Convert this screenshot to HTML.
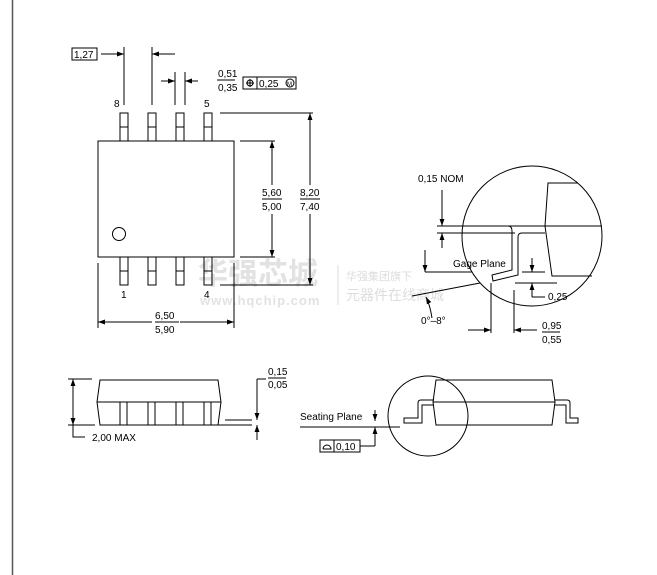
<!DOCTYPE html>
<html><head><meta charset="utf-8"><style>
body{margin:0;background:#fff}
svg{display:block}
text{font-family:"Liberation Sans","DejaVu Sans",sans-serif;font-size:10px;fill:#000}
</style></head><body>
<svg width="657" height="575" viewBox="0 0 657 575" xmlns="http://www.w3.org/2000/svg">
<defs>
<marker id="a" viewBox="0 0 10 10" refX="10" refY="5" markerWidth="7" markerHeight="7" orient="auto-start-reverse"><path d="M0,1.5 L10,5 L0,8.5 z" fill="#000"/></marker>
</defs>
<line x1="12.5" y1="0" x2="12.5" y2="575" stroke="#555" stroke-width="1.5"/>
<!-- watermark -->
<g fill="#ddd">
<text x="198" y="284" style="font-size:30px;font-weight:bold;fill:#e2e2e2;font-family:'Noto Sans CJK SC',sans-serif">华强芯城</text>
<text x="200" y="305" style="font-size:13px;font-weight:bold;fill:#e2e2e2;letter-spacing:1px">www.hqchip.com</text>
<line x1="338" y1="265" x2="338" y2="305" stroke="#ddd"/>
<text x="346" y="280" style="font-size:11px;fill:#ddd;font-family:'Noto Sans CJK SC',sans-serif">华强集团旗下</text>
<text x="346" y="300" style="font-size:14px;fill:#ddd;font-family:'Noto Sans CJK SC',sans-serif">元器件在线商城</text>
</g>
<g stroke="#000" stroke-width="1" fill="none">
<!-- top view -->
<rect x="98" y="141" width="136" height="116"/>
<circle cx="119" cy="234" r="6.5"/>
<g>
<rect x="120" y="113" width="8" height="28"/><rect x="148" y="113" width="8" height="28"/><rect x="176" y="113" width="8" height="28"/><rect x="204" y="113" width="8" height="28"/>
<rect x="120" y="257" width="8" height="28"/><rect x="148" y="257" width="8" height="28"/><rect x="176" y="257" width="8" height="28"/><rect x="204" y="257" width="8" height="28"/>
<path d="M120 127h8M148 127h8M176 127h8M204 127h8M120 271h8M148 271h8M176 271h8M204 271h8"/>
</g>
<rect x="72" y="48" width="25" height="12"/>
<path d="M124 47V105M152 47V105M175 72V105M185 72V105"/>
<line x1="101" y1="54" x2="124" y2="54" marker-end="url(#a)"/>
<line x1="175" y1="54" x2="152" y2="54" marker-end="url(#a)"/>
<line x1="161" y1="81" x2="175" y2="81" marker-end="url(#a)"/>
<line x1="198" y1="81" x2="185" y2="81" marker-end="url(#a)"/>
<path d="M217 80h18"/>
<rect x="243" y="77" width="53" height="12"/><path d="M257 77v12"/>
<circle cx="250" cy="83" r="3"/><path d="M250 79v8M246 83h8"/>
<circle cx="290" cy="83" r="4"/>
<path d="M220 113h93M240 141h35M240 257h35M220 285h93"/>
<line x1="272" y1="185" x2="272" y2="141" marker-end="url(#a)"/>
<line x1="272" y1="214" x2="272" y2="257" marker-end="url(#a)"/>
<line x1="310" y1="185" x2="310" y2="113" marker-end="url(#a)"/>
<line x1="310" y1="214" x2="310" y2="285" marker-end="url(#a)"/>
<path d="M262 199h20M300 199h20"/>
<path d="M98 263V328M234 263V328"/>
<line x1="152" y1="322" x2="98" y2="322" marker-end="url(#a)"/>
<line x1="180" y1="322" x2="234" y2="322" marker-end="url(#a)"/>
<path d="M155 322h24"/>
<!-- detail -->
<circle cx="532" cy="236" r="70"/>
<path d="M578 183H548L545 226L552 276H592"/>
<path d="M437 226H602"/>
<path d="M437 233H515"/>
<path d="M437 226H508Q512 226 512 231V270L492 275L493 281L518 275V237Q518 233 522 233H545"/>
<line x1="442" y1="190" x2="442" y2="226" marker-end="url(#a)"/>
<line x1="442" y1="248" x2="442" y2="233" marker-end="url(#a)"/>
<path d="M425 272H472M412 296L480 283"/>
<line x1="425" y1="250" x2="425" y2="272" marker-end="url(#a)"/>
<path d="M432 318Q430 305 426 297" marker-end="url(#a)"/>
<path d="M522 272H545M515 283H557"/>
<line x1="532" y1="258" x2="532" y2="272" marker-end="url(#a)"/>
<path d="M532 297V290M532 297H545"/>
<line x1="532" y1="297" x2="532" y2="283" marker-end="url(#a)"/>
<path d="M491 283V333M514 290V333"/>
<line x1="468" y1="330" x2="491" y2="330" marker-end="url(#a)"/>
<line x1="537" y1="330" x2="514" y2="330" marker-end="url(#a)"/>
<path d="M542 332h18"/>
<!-- side view left -->
<path d="M100 380H218L221 402L218 425H100L97 402Z"/>
<path d="M97 402H221"/>
<rect x="120" y="402" width="7" height="23"/><rect x="148" y="402" width="7" height="23"/><rect x="176" y="402" width="7" height="23"/><rect x="204" y="402" width="7" height="23"/>
<path d="M68 379H92M68 425H95M73 425V437H85"/>
<line x1="73" y1="402" x2="73" y2="379" marker-end="url(#a)"/>
<line x1="73" y1="402" x2="73" y2="425" marker-end="url(#a)"/>
<path d="M225 420H252M210 425H252M257 379H266"/>
<line x1="257" y1="379" x2="257" y2="420" marker-end="url(#a)"/>
<line x1="257" y1="440" x2="257" y2="425" marker-end="url(#a)"/>
<path d="M268 378h18"/>
<!-- side view right -->
<circle cx="428" cy="416" r="40"/>
<path d="M436 380H552L555 402L552 425H436L433 402Z"/>
<path d="M433 402H555"/>
<path d="M434 400H421Q418 400 418 403V418H404V423H422V405H434"/>
<path d="M555 400H567Q570 400 570 403V418H578V423H566V405H555"/>
<path d="M300 427H400"/>
<line x1="375" y1="410" x2="375" y2="421" marker-end="url(#a)"/>
<line x1="375" y1="446" x2="375" y2="427" marker-end="url(#a)"/>
<path d="M360 446H375"/>
<rect x="320" y="440" width="40" height="12"/><path d="M334 440v12"/>
<path d="M323 449H331A4 4 0 0 0 323 449"/>
</g>
<text x="74" y="58">1,27</text>
<text x="114" y="107">8</text>
<text x="204" y="107">5</text>
<text x="121" y="298">1</text>
<text x="204" y="298">4</text>
<text x="218" y="77">0,51</text>
<text x="218" y="91">0,35</text>
<text x="259" y="87">0,25</text>
<text x="287" y="86" style="font-size:6px">M</text>
<text x="262" y="196">5,60</text>
<text x="262" y="210">5,00</text>
<text x="300" y="196">8,20</text>
<text x="300" y="210">7,40</text>
<text x="155" y="319">6,50</text>
<text x="155" y="333">5,90</text>
<text x="418" y="182">0,15 NOM</text>
<text x="453" y="267">Gage Plane</text>
<text x="548" y="300">0,25</text>
<text x="421" y="324">0°–8°</text>
<text x="542" y="329">0,95</text>
<text x="542" y="343">0,55</text>
<text x="268" y="375">0,15</text>
<text x="268" y="388">0,05</text>
<text x="92" y="441">2,00 MAX</text>
<text x="300" y="420">Seating Plane</text>
<text x="336" y="450">0,10</text>
</svg>
</body></html>
